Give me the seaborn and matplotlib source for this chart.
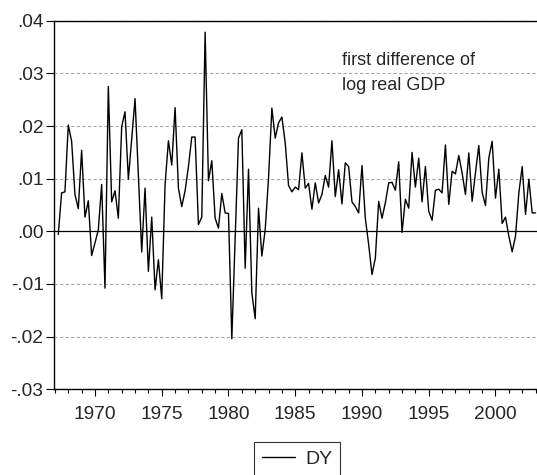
import numpy as np
import pandas as pd
import seaborn as sns
import matplotlib.pyplot as plt
from matplotlib.ticker import FixedLocator

# quarterly growth of log real GDP, 1967Q2 .. 2003Q1
dy = [
    -0.0006, 0.0073, 0.0075, 0.0202, 0.0171, 0.0070, 0.0043, 0.0154, 0.0027, 0.0058,
    -0.0046, -0.0022, 0.0003, 0.0089, -0.0108, 0.0275, 0.0056, 0.0077, 0.0025, 0.0199,
    0.0227, 0.0099, 0.0175, 0.0252, 0.0106, -0.0039, 0.0082, -0.0076, 0.0027, -0.0111,
    -0.0054, -0.0128, 0.0089, 0.0172, 0.0126, 0.0235, 0.0082, 0.0047, 0.0077, 0.0123,
    0.0179, 0.0179, 0.0013, 0.0027, 0.0378, 0.0096, 0.0134, 0.0025, 0.0006, 0.0072,
    0.0035, 0.0034, -0.0204, -0.0015, 0.0177, 0.0193, -0.0070, 0.0118, -0.0117, -0.0166,
    0.0044, -0.0047, 0.0003, 0.0101, 0.0234, 0.0177, 0.0206, 0.0217, 0.0168, 0.0087,
    0.0075, 0.0084, 0.0079, 0.0149, 0.0082, 0.0091, 0.0042, 0.0092, 0.0054, 0.0070,
    0.0106, 0.0084, 0.0172, 0.0066, 0.0117, 0.0052, 0.0130, 0.0123, 0.0056, 0.0047,
    0.0035, 0.0125, 0.0025, -0.0025, -0.0082, -0.0051, 0.0057, 0.0025, 0.0054, 0.0092,
    0.0093, 0.0078, 0.0132, -0.0002, 0.0061, 0.0044, 0.0150, 0.0084, 0.0139, 0.0056,
    0.0123, 0.0038, 0.0021, 0.0078, 0.0080, 0.0073, 0.0164, 0.0051, 0.0114, 0.0109,
    0.0144, 0.0111, 0.0070, 0.0149, 0.0057, 0.0111, 0.0163, 0.0074, 0.0049, 0.0139,
    0.0171, 0.0063, 0.0118, 0.0015, 0.0027, -0.0009, -0.0039, -0.0009, 0.0073, 0.0123,
    0.0032, 0.0099, 0.0035, 0.0035,
]
start_year = 1967.25
y_ticks = [0.04, 0.03, 0.02, 0.01, 0.00, -0.01, -0.02, -0.03]
y_labels = [".04", ".03", ".02", ".01", ".00", "-.01", "-.02", "-.03"]
x_ticks = [1970, 1975, 1980, 1985, 1990, 1995, 2000]
note_lines = ["first difference of", "log real GDP"]

df = pd.DataFrame({"date": start_year + 0.25 * np.arange(len(dy)), "DY": dy})

sns.set_style("ticks")
plt.rcParams["font.family"] = ["Liberation Sans", "DejaVu Sans"]

W, H = 537, 475
fig = plt.figure(figsize=(W / 100, H / 100), dpi=100)
# plot box: left edge at x=54px, runs off the right side of the picture
x0, x1 = 1966.93, 2003.35
px_per_year = 13.35
ax = fig.add_axes([54 / W, 1 - 389.3 / H, (x1 - x0) * px_per_year / W, (389.3 - 20.7) / H])

for v in y_ticks:
    if v == 0:
        ax.axhline(0, color="black", lw=0.9, zorder=1)
    else:
        ax.axhline(v, color="#a8a8a8", lw=0.8, ls=(0, (3, 2)), zorder=1)

sns.lineplot(data=df, x="date", y="DY", ax=ax, color="black", lw=1.0, label="DY", zorder=3)

ax.set_xlim(x0, x1)
ax.set_ylim(-0.03, 0.04)
ax.set_yticks(y_ticks)
ax.set_yticklabels(y_labels)
ax.set_xticks(x_ticks)
ax.xaxis.set_minor_locator(FixedLocator(range(1967, 2004)))
ax.tick_params(axis="both", which="major", labelsize=13.8, color="black", width=0.8)
ax.tick_params(axis="y", which="major", length=5.5, pad=2)
ax.tick_params(axis="x", which="major", length=5, pad=7)
ax.tick_params(axis="x", which="minor", length=3, width=0.8, color="black")
ax.set_xlabel("")
ax.set_ylabel("")
for s in ax.spines.values():
    s.set_color("black")
    s.set_linewidth(1.0)
ax.spines["right"].set_visible(False)

ax.text(1988.5, 0.0316, note_lines[0], fontsize=13, va="baseline", ha="left")
ax.text(1988.5, 0.0268, note_lines[1], fontsize=13, va="baseline", ha="left")

leg = ax.legend(loc="center", bbox_to_anchor=(297 / W, 1 - 459 / H), bbox_transform=fig.transFigure,
                fontsize=14, frameon=True, fancybox=False, edgecolor="black", handlelength=1.7,
                borderpad=0.4, handletextpad=0.55, borderaxespad=0)
leg.get_frame().set_linewidth(0.8)

fig.savefig("out.png", dpi=100)
